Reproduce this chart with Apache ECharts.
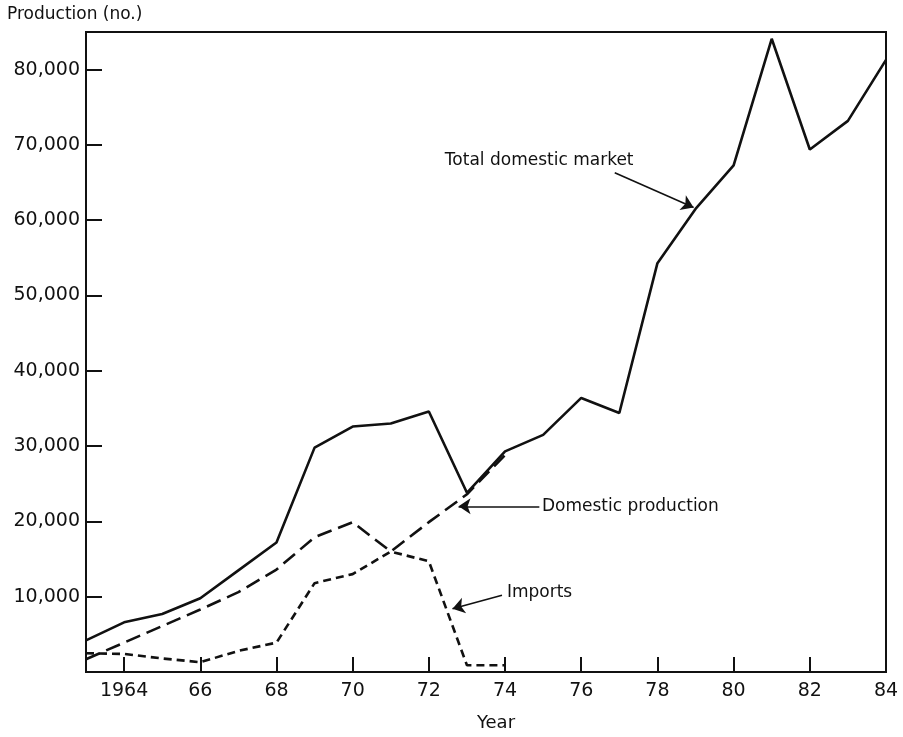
<!DOCTYPE html>
<html>
<head>
<meta charset="utf-8">
<script src="https://cdn.jsdelivr.net/npm/echarts@6/dist/echarts.min.js"></script>
<style>
html, body { margin: 0; background: #fff; }
#chart { width: 903px; height: 737px; }
</style>
</head>
<body>
<div id="chart"></div>
<script>
// data
const years = [1963, 1964, 1965, 1966, 1967, 1968, 1969, 1970, 1971, 1972, 1973, 1974,
	1975, 1976, 1977, 1978, 1979, 1980, 1981, 1982, 1983, 1984]
const totalMarket = [4200, 6600, 7700, 9800, 13500, 17200, 29800, 32600, 33000, 34600, 23800, 29300,
	31500, 36400, 34400, 54300, 61500, 67300, 84100, 69400, 73200, 81300]
// these two stop at 1974
const domesticProd = [1700, 3900, 6100, 8300, 10600, 13600, 17900, 19900, 16000, 19900, 23600, 28800]
const imports = [2500, 2400, 1800, 1300, 2800, 3900, 11800, 13000, 16000, 14700, 900, 900]

const xTickYears = [1964, 1966, 1968, 1970, 1972, 1974, 1976, 1978, 1980, 1982]
const xLabelYears = [1964, 1966, 1968, 1970, 1972, 1974, 1976, 1978, 1980, 1982, 1984]
const yTicks = [10000, 20000, 30000, 40000, 50000, 60000, 70000, 80000]

// annotations (data units)
const noteText = ['Total domestic market', 'Domestic production', 'Imports']
const noteAt = [[1972.42, 67900], [1974.97, 22000], [1974.05, 10600]]
const arrowFrom = [[1976.88, 66300], [1974.9, 22000], [1973.92, 10200]]
const arrowTo = [[1978.95, 61700], [1972.78, 22000], [1972.62, 8400]]

const ink = '#111'
const font = 'DejaVu Sans'

const toPairs = (vals) => vals.map((v, i) => [years[i], v])

const chart = echarts.init(document.getElementById('chart'))

const option = {
	animation: false,
	backgroundColor: '#fff',
	grid: {
		left: 86, right: 17, top: 32, bottom: 64,
		show: true, borderColor: ink, borderWidth: 2,
	},
	xAxis: {
		type: 'value',
		min: 1963,
		max: 1984,
		name: 'Year',
		nameLocation: 'middle',
		nameGap: 42,
		nameTextStyle: { color: ink, fontFamily: font, fontSize: 18, padding: [0, 0, 0, 20] },
		splitLine: { show: false },
		axisLine: { lineStyle: { color: ink, width: 2 } },
		axisTick: { inside: true, length: 15, customValues: xTickYears, lineStyle: { color: ink, width: 2 } },
		axisLabel: {
			customValues: xLabelYears,
			margin: 10,
			color: ink, fontFamily: font, fontSize: 19,
			formatter: (v) => (v === 1964 ? '1964' : String(v).slice(2)),
		},
	},
	yAxis: {
		type: 'value',
		min: 0,
		max: 85000,
		name: 'Production (no.)',
		nameLocation: 'end',
		nameGap: 9,
		nameTextStyle: { color: ink, fontFamily: font, fontSize: 17, align: 'left', padding: [0, 0, 0, -79] },
		splitLine: { show: false },
		axisLine: { show: true, lineStyle: { color: ink, width: 2 } },
		axisTick: { show: true, inside: true, length: 16, customValues: yTicks, lineStyle: { color: ink, width: 2 } },
		axisLabel: {
			customValues: yTicks,
			margin: 6,
			color: ink, fontFamily: font, fontSize: 19,
			formatter: (v) => v.toLocaleString('en-US'),
		},
	},
	series: [
		{
			name: 'Total domestic market',
			type: 'line',
			data: toPairs(totalMarket),
			symbol: 'none',
			lineStyle: { color: ink, width: 2.6 },
			z: 3,
			markLine: {
				silent: true,
				symbol: ['none', 'arrow'],
				symbolSize: 12,
				label: { show: false },
				lineStyle: { color: ink, width: 1.6, type: 'solid' },
				data: arrowFrom.map((p, i) => [{ coord: p }, { coord: arrowTo[i] }]),
			},
			markPoint: {
				silent: true,
				symbol: 'circle',
				symbolSize: 0,
				data: noteText.map((t, i) => ({
					coord: noteAt[i],
					label: {
						show: true, position: 'right', distance: 0,
						formatter: t, color: ink, fontFamily: font, fontSize: 17,
					},
				})),
			},
		},
		{
			name: 'Domestic production',
			type: 'line',
			data: toPairs(domesticProd),
			symbol: 'none',
			lineStyle: { color: ink, width: 2.6, type: [15, 7] },
			z: 2,
		},
		{
			name: 'Imports',
			type: 'line',
			data: toPairs(imports),
			symbol: 'none',
			lineStyle: { color: ink, width: 2.6, type: [8, 5] },
			z: 2,
		},
	],
}

chart.setOption(option)
</script>
</body>
</html>
